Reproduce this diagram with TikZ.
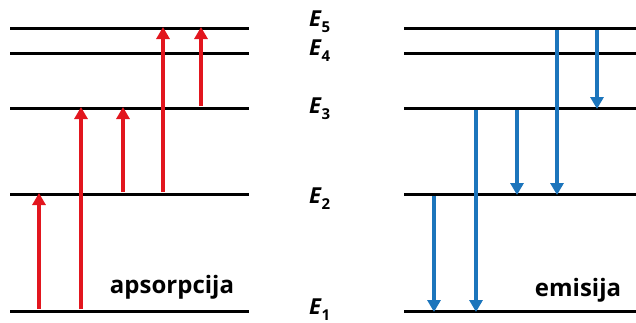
\documentclass[tikz,border=0pt]{standalone}
\usepackage{fontspec}
\setmainfont{Open Sans}
\usetikzlibrary{arrows.meta}
\definecolor{absred}{RGB}{226,22,30}
\definecolor{emblue}{RGB}{28,117,188}
\newcommand{\elevel}[1]{E\kern0.5pt\raisebox{-0.28em}{\fontsize{15}{15}\selectfont\upshape #1}}
\tikzset{
  level/.style={line width=3pt},
  upar/.style={absred,line width=4pt,-{Triangle[width=13pt,length=12pt]},shorten >=-1pt},
  downar/.style={emblue,line width=4pt,-{Triangle[width=13pt,length=12pt]},shorten >=-1pt},
  elab/.style={font=\fontsize{22}{22}\selectfont\bfseries\itshape,inner sep=0pt,anchor=base west},
  title/.style={font=\fontsize{24}{24}\selectfont\bfseries,inner sep=0pt}
}
\begin{document}
\begin{tikzpicture}[x=1pt,y=-1pt]
\useasboundingbox (0,0) rectangle (636,322);
% level end points
\foreach \n/\y in {1/311,2/194,3/108,4/53,5/28}{
  \coordinate (la\n) at (10,\y);
  \coordinate (lb\n) at (249,\y);
  \coordinate (ra\n) at (404,\y);
  \coordinate (rb\n) at (636,\y);
  \draw[level] (la\n) -- (lb\n);
  \draw[level] (ra\n) -- (rb\n);
}
% level labels
\node[elab] (E5) at (309,26) {\elevel{5}};
\node[elab] (E4) at (309,55) {\elevel{4}};
\node[elab] (E3) at (309,113) {\elevel{3}};
\node[elab] (E2) at (309,203) {\elevel{2}};
\node[elab] (E1) at (309,314) {\elevel{1}};
% titles
\node[title] (aps) at (172,287) {apsorpcija};
\node[title] (emi) at (578,290) {emisija};
% absorption arrows
\coordinate (a1s) at (39,309);  \coordinate (a1e) at (39,194);
\coordinate (a2s) at (81,309);  \coordinate (a2e) at (81,108);
\coordinate (a3s) at (123,192); \coordinate (a3e) at (123,108);
\coordinate (a4s) at (163,192); \coordinate (a4e) at (163,28);
\coordinate (a5s) at (201,106); \coordinate (a5e) at (201,28);
\foreach \i in {1,...,5}{\draw[upar] (a\i s) -- (a\i e);}
% emission arrows
\coordinate (e1s) at (434,196); \coordinate (e1e) at (434,311);
\coordinate (e2s) at (476,110); \coordinate (e2e) at (476,311);
\coordinate (e3s) at (517,110); \coordinate (e3e) at (517,194);
\coordinate (e4s) at (557,30);  \coordinate (e4e) at (557,194);
\coordinate (e5s) at (597,30);  \coordinate (e5e) at (597,108);
\foreach \i in {1,...,5}{\draw[downar] (e\i s) -- (e\i e);}
\end{tikzpicture}
\end{document}
